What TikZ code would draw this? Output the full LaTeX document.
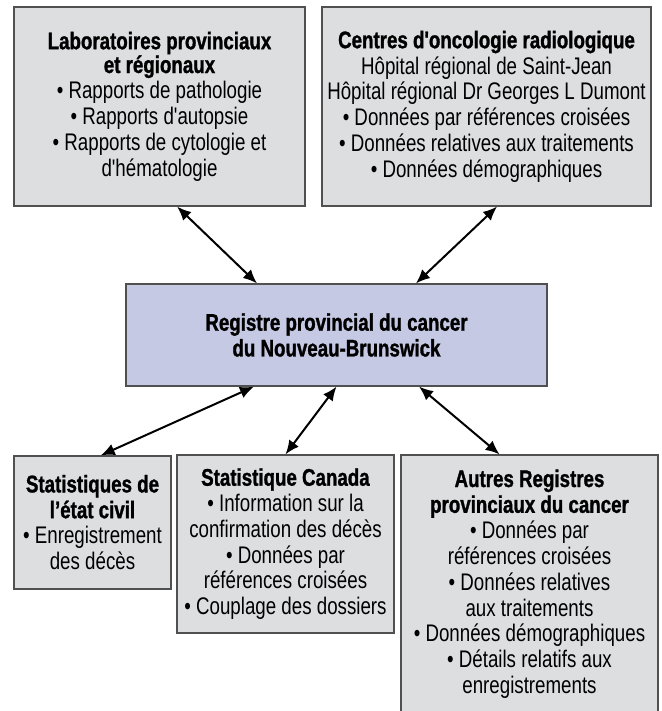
\documentclass[tikz,border=0pt]{standalone}
\usepackage{fontspec}
\newfontfamily\diagfont{Liberation Sans}[FakeStretch=0.78, BoldFeatures={FakeBold=1.2}]
\usetikzlibrary{arrows.meta}

\definecolor{boxgray}{RGB}{221,222,224}
\definecolor{regblue}{RGB}{197,201,228}
\definecolor{edgegray}{RGB}{80,80,80}

\begin{document}
\begin{tikzpicture}[x=1pt, y=-1pt,
  every node/.style={font=\diagfont\fontsize{24}{25.8}\selectfont},
  srcbox/.style={draw=edgegray, line width=1.2pt, fill=boxgray, align=center, inner sep=2pt},
  dbl/.style={{Latex[length=14pt,width=12pt]}-{Latex[length=14pt,width=12pt]}, line width=2pt}]
  \useasboundingbox (0,0) rectangle (661,711);
  \clip (0,0) rectangle (661,711);
  % sources du haut
  \node[srcbox, minimum width=291pt, minimum height=199pt] (labo) at (159.5,106.5) {\textbf{Laboratoires provinciaux}\\[-2pt]\textbf{et régionaux}\\• Rapports de pathologie\\• Rapports d'autopsie\\• Rapports de cytologie et\\d'hématologie};
  \node[srcbox, minimum width=329pt, minimum height=199pt] (onco) at (486.5,106.5) {\textbf{Centres d'oncologie radiologique}\\Hôpital régional de Saint-Jean\\Hôpital régional Dr Georges L Dumont\\• Données par références croisées\\• Données relatives aux traitements\\• Données démographiques};
  % registre central
  \node[srcbox, fill=regblue, minimum width=421pt, minimum height=102pt] (reg) at (336.5,335) {\textbf{Registre provincial du cancer}\\\textbf{du Nouveau-Brunswick}};
  % sources du bas
  \node[srcbox, minimum width=157pt, minimum height=133pt] (civil) at (92.5,522.5) {\textbf{Statistiques de}\\\textbf{l’état civil}\\• Enregistrement\\des décès};
  \node[srcbox, minimum width=217pt, minimum height=178pt] (canada) at (285.5,544) {\textbf{Statistique Canada}\\• Information sur la\\confirmation des décès\\• Données par\\références croisées\\• Couplage des dossiers};
  \node[srcbox, minimum width=257pt, minimum height=258pt] (autres) at (529.5,584) {\textbf{Autres Registres}\\\textbf{provinciaux du cancer}\\• Données par\\références croisées\\• Données relatives\\aux traitements\\• Données démographiques\\• Détails relatifs aux\\enregistrements};
  \draw[dbl] (labo.-80) -- (reg.147.3);
  \draw[dbl] (onco.-84) -- (reg.33);
  \draw[dbl] (reg.212.7) -- (civil.83.6);
  \draw[dbl] (reg.south) -- (canada.north);
  \draw[dbl] (reg.-32.4) -- (autres.103.5);
\end{tikzpicture}
\end{document}
